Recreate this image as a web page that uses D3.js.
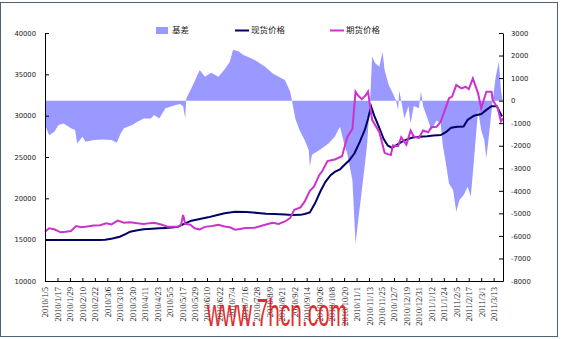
<!DOCTYPE html>
<html>
<head>
<meta charset="utf-8">
<script src="https://cdn.jsdelivr.net/npm/d3@7"></script>
<style>
body { margin: 0; background: #fff; }
</style>
</head>
<body>
<svg id="chart" width="561" height="339"></svg>
<script>
// x axis labels, one every 12 days
const tickLabels = ["2010/1/5","2010/1/17","2010/1/29","2010/2/10","2010/2/22","2010/3/6","2010/3/18","2010/3/30",
    "2010/4/11","2010/4/23","2010/5/5","2010/5/17","2010/5/29","2010/6/10","2010/6/22","2010/7/4","2010/7/16",
    "2010/7/28","2010/8/9","2010/8/21","2010/9/2","2010/9/14","2010/9/26","2010/10/8","2010/10/20","2010/11/1",
    "2010/11/13","2010/11/25","2010/12/7","2010/12/19","2010/12/31","2011/1/12","2011/1/24","2011/2/5",
    "2011/2/17","2011/3/1","2011/3/13"];
const seriesNames = ["基差", "现货价格", "期货价格"];
const leftTicks = [10000, 15000, 20000, 25000, 30000, 35000, 40000];
const rightTicks = [-8000, -7000, -6000, -5000, -4000, -3000, -2000, -1000, 0, 1000, 2000, 3000];

// 基差 (right axis)
const basisData = [
    ["2010/1/5",-1080],["2010/1/9",-1530],["2010/1/14",-1380],["2010/1/18",-1080],["2010/1/23",-1010],
    ["2010/1/30",-1230],["2010/2/3",-1300],["2010/2/5",-1900],["2010/2/10",-1600],["2010/2/13",-1820],
    ["2010/2/21",-1750],["2010/3/1",-1720],["2010/3/10",-1750],["2010/3/15",-1870],["2010/3/19",-1450],
    ["2010/3/22",-1230],["2010/3/30",-1080],["2010/4/4",-940],["2010/4/10",-790],["2010/4/17",-790],
    ["2010/4/20",-640],["2010/4/25",-790],["2010/5/1",-340],["2010/5/10",-200],["2010/5/15",-150],
    ["2010/5/18",-250],["2010/5/20",-790],["2010/5/21",100],["2010/5/26",550],["2010/6/3",1360],
    ["2010/6/8",1060],["2010/6/14",1240],["2010/6/21",1060],["2010/6/27",1390],["2010/7/2",1730],
    ["2010/7/5",2250],["2010/7/10",2200],["2010/7/15",2020],["2010/7/19",1950],["2010/7/26",1800],
    ["2010/8/5",1500],["2010/8/12",1210],["2010/8/18",1060],["2010/8/24",910],["2010/8/29",400],
    ["2010/8/31",-50],["2010/9/3",-790],["2010/9/7",-1300],["2010/9/12",-1750],["2010/9/16",-2200],
    ["2010/9/17",-2930],["2010/9/19",-2400],["2010/9/26",-2200],["2010/10/5",-1900],["2010/10/11",-1600],
    ["2010/10/16",-1160],["2010/10/20",-1900],["2010/10/23",-2340],["2010/10/28",-3530],["2010/10/31",-6340],
    ["2010/11/3",-5150],["2010/11/8",-3230],["2010/11/11",-2050],["2010/11/14",0],["2010/11/16",1950],
    ["2010/11/19",1660],["2010/11/23",1500],["2010/11/26",2170],["2010/11/28",1360],["2010/12/2",690],
    ["2010/12/6",320],["2010/12/9",0],["2010/12/11",-420],["2010/12/12",450],["2010/12/14",0],
    ["2010/12/17",-790],["2010/12/21",-240],["2010/12/23",-1010],["2010/12/26",-240],["2010/12/31",-340],
    ["2011/1/2",400],["2011/1/4",-240],["2011/1/9",-880],["2011/1/12",-1300],["2011/1/17",-880],
    ["2011/1/21",-1010],["2011/1/23",-1970],["2011/1/26",-2780],["2011/1/29",-3670],["2011/2/2",-3970],
    ["2011/2/5",-4930],["2011/2/8",-4410],["2011/2/12",-4200],["2011/2/16",-3820],["2011/2/19",-4260],
    ["2011/2/22",-2640],["2011/2/26",-420],["2011/3/1",-1300],["2011/3/4",-1750],["2011/3/6",-2560],
    ["2011/3/9",-1300],["2011/3/12",0],["2011/3/15",1060],["2011/3/18",1730],["2011/3/20",470],
    ["2011/3/22",-100]
];

// 现货价格 (left axis)
const spotData = [
    ["2010/1/5",14950],["2010/1/29",14950],["2010/2/26",14950],["2010/3/4",15000],["2010/3/11",15150],
    ["2010/3/18",15360],["2010/3/24",15700],["2010/3/28",15970],["2010/4/4",16150],["2010/4/10",16250],
    ["2010/4/18",16320],["2010/4/25",16370],["2010/5/1",16420],["2010/5/7",16480],["2010/5/13",16570],
    ["2010/5/20",16980],["2010/5/26",17300],["2010/6/3",17500],["2010/6/11",17700],["2010/6/19",17950],
    ["2010/6/27",18190],["2010/7/7",18390],["2010/7/18",18350],["2010/7/29",18230],["2010/8/6",18150],
    ["2010/8/14",18100],["2010/8/24",18050],["2010/8/31",17990],["2010/9/8",18000],["2010/9/12",18100],
    ["2010/9/17",18300],["2010/9/22",19400],["2010/9/27",20800],["2010/10/2",22000],["2010/10/7",22800],
    ["2010/10/11",23200],["2010/10/16",23500],["2010/10/20",24000],["2010/10/25",24600],["2010/10/30",25450],
    ["2010/11/4",26800],["2010/11/9",28300],["2010/11/12",29600],["2010/11/15",31100],["2010/11/18",30000],
    ["2010/11/23",28500],["2010/11/27",27200],["2010/12/1",26400],["2010/12/5",26100],["2010/12/9",26400],
    ["2010/12/14",26800],["2010/12/19",27100],["2010/12/25",27350],["2011/1/1",27450],["2011/1/8",27500],
    ["2011/1/14",27600],["2011/1/21",27650],["2011/1/26",28000],["2011/1/31",28550],["2011/2/6",28650],
    ["2011/2/12",28700],["2011/2/16",29500],["2011/2/22",30000],["2011/3/1",30200],["2011/3/6",30700],
    ["2011/3/11",31150],["2011/3/16",31150],["2011/3/21",29900]
];

// 期货价格 (left axis)
const futuresData = [
    ["2010/1/5",15970],["2010/1/9",16370],["2010/1/14",16250],["2010/1/20",15890],["2010/1/25",15950],
    ["2010/1/30",16050],["2010/2/4",16650],["2010/2/9",16500],["2010/2/13",16550],["2010/2/21",16700],
    ["2010/2/27",16750],["2010/3/5",16980],["2010/3/10",16850],["2010/3/16",17300],["2010/3/22",17050],
    ["2010/3/28",17100],["2010/4/4",16980],["2010/4/10",16900],["2010/4/16",17000],["2010/4/20",17050],
    ["2010/4/25",16900],["2010/4/29",16750],["2010/5/3",16570],["2010/5/13",16570],["2010/5/16",16800],
    ["2010/5/18",18000],["2010/5/20",16900],["2010/5/25",16800],["2010/5/29",16370],["2010/6/3",16250],
    ["2010/6/8",16550],["2010/6/15",16650],["2010/6/21",16800],["2010/6/27",16600],["2010/7/2",16500],
    ["2010/7/7",16200],["2010/7/12",16300],["2010/7/17",16400],["2010/7/26",16450],["2010/8/5",16800],
    ["2010/8/12",17050],["2010/8/18",16900],["2010/8/24",17200],["2010/8/29",17600],["2010/9/2",18600],
    ["2010/9/8",18900],["2010/9/12",19600],["2010/9/17",20900],["2010/9/21",21400],["2010/9/26",22800],
    ["2010/9/29",23300],["2010/10/4",24500],["2010/10/11",24700],["2010/10/18",25100],["2010/10/23",27400],
    ["2010/10/28",28400],["2010/10/31",32900],["2010/11/2",32500],["2010/11/6",32000],["2010/11/10",32500],
    ["2010/11/12",32900],["2010/11/16",29500],["2010/11/23",28000],["2010/11/28",25500],["2010/12/1",25350],
    ["2010/12/4",25250],["2010/12/6",26400],["2010/12/11",26300],["2010/12/14",27400],["2010/12/19",26500],
    ["2010/12/23",28200],["2010/12/26",27500],["2010/12/31",27300],["2011/1/4",28200],["2011/1/9",28000],
    ["2011/1/12",28600],["2011/1/17",28650],["2011/1/21",29250],["2011/1/24",30300],["2011/1/29",32100],
    ["2011/2/1",32300],["2011/2/5",33700],["2011/2/10",33300],["2011/2/14",33500],["2011/2/17",33200],
    ["2011/2/21",34500],["2011/2/26",32700],["2011/3/1",30900],["2011/3/6",32900],["2011/3/11",32900],
    ["2011/3/12",31900],["2011/3/17",30900],["2011/3/20",29300],["2011/3/22",29700]
];

const parseDate = d3.timeParse("%Y/%m/%d");
const margin = { left: 45, right: 503, top: 33, bottom: 281 };

const svg = d3.select("#chart");

svg.append("rect")
    .attr("x", 0.5).attr("y", 2.5)
    .attr("width", 557).attr("height", 334)
    .attr("fill", "#fff")
    .attr("stroke", "#4d6275");

const x = d3.scaleTime()
    .domain([parseDate("2010/1/5"), parseDate("2011/3/22")])
    .range([margin.left, margin.right]);
const yLeft = d3.scaleLinear().domain([10000, 40000]).range([margin.bottom, margin.top]);
const yRight = d3.scaleLinear().domain([-8000, 3000]).range([margin.bottom, margin.top]);

// basis area
const area = d3.area()
    .x(d => x(parseDate(d[0])))
    .y0(yRight(0))
    .y1(d => yRight(d[1]));
svg.append("path")
    .datum(basisData)
    .attr("d", area)
    .attr("fill", "#9999ff");

const line = d3.line()
    .x(d => x(parseDate(d[0])))
    .y(d => yLeft(d[1]));

svg.append("path")
    .datum(spotData)
    .attr("d", line)
    .attr("fill", "none")
    .attr("stroke", "#000066")
    .attr("stroke-width", 2);

svg.append("path")
    .datum(futuresData)
    .attr("d", line)
    .attr("fill", "none")
    .attr("stroke", "#cc33cc")
    .attr("stroke-width", 2);

// axes
const gLeft = svg.append("g")
    .attr("transform", "translate(" + margin.left + ",0)")
    .call(d3.axisLeft(yLeft).tickValues(leftTicks).tickFormat(d3.format("d"))
        .tickSize(-4).tickSizeOuter(0).tickPadding(9));
const gRight = svg.append("g")
    .attr("transform", "translate(" + margin.right + ",0)")
    .call(d3.axisRight(yRight).tickValues(rightTicks).tickFormat(d => String(d))
        .tickSize(-4).tickSizeOuter(0).tickPadding(8));
const gBottom = svg.append("g")
    .attr("transform", "translate(0," + margin.bottom + ")")
    .call(d3.axisBottom(x)
        .tickValues(tickLabels.map(parseDate))
        .tickFormat((d, i) => tickLabels[i])
        .tickSize(-3).tickSizeOuter(0));

[gLeft, gRight].forEach(g => {
    g.select(".domain").attr("stroke", "#000");
    g.selectAll(".tick line").attr("stroke", "#000");
    g.selectAll("text")
        .attr("font-family", "DejaVu Sans")
        .attr("font-size", "6.8px")
        .attr("fill", "#222");
});

gBottom.select(".domain").attr("stroke", "#000");
gBottom.selectAll(".tick line").attr("stroke", "#000");
gBottom.selectAll("text")
    .attr("font-family", "Liberation Serif")
    .attr("font-size", "8.5px")
    .attr("fill", "#222")
    .attr("text-anchor", "end")
    .attr("transform", "rotate(-90)")
    .attr("x", -6)
    .attr("y", 0)
    .attr("dy", "0.35em");

// legend
const legend = svg.append("g")
    .attr("font-family", "Noto Sans CJK SC")
    .attr("font-size", "8.5px")
    .attr("fill", "#222");
legend.append("rect")
    .attr("x", 156).attr("y", 27)
    .attr("width", 12).attr("height", 7)
    .attr("fill", "#9999ff");
legend.append("text").attr("x", 172).attr("y", 30.5).attr("dy", "0.35em").text(seriesNames[0]);
legend.append("line")
    .attr("x1", 235).attr("x2", 249).attr("y1", 30.5).attr("y2", 30.5)
    .attr("stroke", "#000066").attr("stroke-width", 2);
legend.append("text").attr("x", 251).attr("y", 30.5).attr("dy", "0.35em").text(seriesNames[1]);
legend.append("line")
    .attr("x1", 330).attr("x2", 344).attr("y1", 30.5).attr("y2", 30.5)
    .attr("stroke", "#cc33cc").attr("stroke-width", 2);
legend.append("text").attr("x", 346).attr("y", 30.5).attr("dy", "0.35em").text(seriesNames[2]);

// watermark
svg.append("text")
    .attr("x", 207).attr("y", 326)
    .attr("font-family", "Liberation Sans")
    .attr("font-size", "38px")
    .attr("textLength", 140)
    .attr("lengthAdjust", "spacingAndGlyphs")
    .attr("fill", "#e01010")
    .attr("fill-opacity", 0.9)
    .text("www.7hcn.com");
</script>
</body>
</html>
